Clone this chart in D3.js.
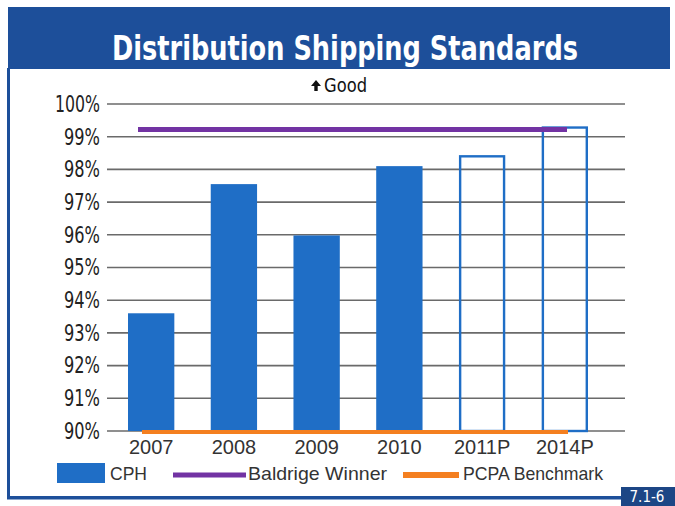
<!DOCTYPE html>
<html>
<head>
<meta charset="utf-8">
<script src="https://cdn.jsdelivr.net/npm/d3@7"></script>
<style>
  body { margin: 0; background: #fff; }
  text { font-family: "DejaVu Sans", sans-serif; font-stretch: condensed; }
  .plain { font-family: "Liberation Sans", sans-serif; font-stretch: normal; }
</style>
</head>
<body>
<div id="chart"></div>
<script>
// data
var years = ["2007", "2008", "2009", "2010", "2011P", "2014P"];
var cph = [93.6, 97.55, 95.98, 98.1, 98.4, 99.28];
var projected = [false, false, false, false, true, true];
var baldrige = 99.22;
var pcpa = 90.0;
var yTicks = [90, 91, 92, 93, 94, 95, 96, 97, 98, 99, 100];

var W = 675, H = 506;
var blue = "#1f6ec6", navy = "#1d4f9a";

var svg = d3.select("#chart").append("svg")
  .attr("width", W).attr("height", H);

// frame + title band
svg.append("rect").attr("x", 0).attr("y", 0).attr("width", W).attr("height", H).attr("fill", "#fff");
svg.append("rect").attr("x", 8).attr("y", 7).attr("width", 662).attr("height", 62).attr("fill", navy);
svg.append("rect").attr("x", 7).attr("y", 68).attr("width", 3).attr("height", 430).attr("fill", navy);
svg.append("rect").attr("x", 7).attr("y", 496).attr("width", 616).attr("height", 3.5).attr("fill", navy);
svg.append("rect").attr("x", 621).attr("y", 487).attr("width", 54).attr("height", 19).attr("fill", "#1c4685");
svg.append("text").attr("x", 647).attr("y", 502).attr("text-anchor", "middle")
  .attr("fill", "#fff").style("font-size", "15px").text("7.1-6");

svg.append("text").attr("x", 112).attr("y", 60)
  .attr("textLength", 466).attr("lengthAdjust", "spacingAndGlyphs")
  .attr("fill", "#fff").style("font-size", "34px").style("font-weight", "bold")
  .text("Distribution Shipping Standards");

// good arrow
svg.append("path").attr("d", "M316,80 l-5,6 h3.3 v5 h3.4 v-5 h3.3 z").attr("fill", "#111");
svg.append("text").attr("x", 324).attr("y", 92).attr("fill", "#111")
  .attr("textLength", 43).attr("lengthAdjust", "spacingAndGlyphs")
  .style("font-size", "19px").text("Good");

var x = d3.scaleBand().domain(years).range([128, 588]).paddingInner(0.44).paddingOuter(0);
var y = d3.scaleLinear().domain([90, 100]).range([431, 104]);

// gridlines
svg.append("g").selectAll("line").data(yTicks).enter().append("line")
  .attr("x1", 107).attr("x2", 625)
  .attr("y1", function(d){ return y(d) }).attr("y2", function(d){ return y(d) })
  .attr("stroke", "#6a6a6a").attr("stroke-width", 1.6);

// y axis labels
var yAxis = d3.axisLeft(y).tickValues(yTicks).tickSize(0).tickPadding(0)
  .tickFormat(function(d){ return d + "%" });
var ya = svg.append("g").attr("transform", "translate(100,0)").call(yAxis);
ya.select(".domain").remove();
ya.selectAll("text").style("font-size", "23px").attr("fill", "#222")
  .style("font-family", "'DejaVu Sans', sans-serif").style("font-stretch", "condensed")
  .attr("textLength", function(d){ return d === 100 ? 45 : 36 })
  .attr("lengthAdjust", "spacingAndGlyphs");

// bars
var data = years.map(function(d, i){ return {year: d, v: cph[i], p: projected[i]} });
svg.append("g").selectAll("rect").data(data).enter().append("rect")
  .attr("x", function(d){ return x(d.year) + (d.p ? 1.2 : 0) })
  .attr("y", function(d){ return y(d.v) })
  .attr("width", function(d){ return x.bandwidth() - (d.p ? 2.4 : 0) })
  .attr("height", function(d){ return y(90) - y(d.v) })
  .attr("fill", function(d){ return d.p ? "none" : blue })
  .attr("stroke", function(d){ return d.p ? blue : "none" })
  .attr("stroke-width", 2.4);

// benchmark lines
svg.append("line").attr("x1", 138).attr("x2", 567)
  .attr("y1", y(baldrige)).attr("y2", y(baldrige))
  .attr("stroke", "#7233a3").attr("stroke-width", 5);
svg.append("line").attr("x1", 142).attr("x2", 568)
  .attr("y1", y(pcpa) + 1).attr("y2", y(pcpa) + 1)
  .attr("stroke", "#f47f20").attr("stroke-width", 4);

// x axis labels
var xAxis = d3.axisBottom(x).tickSize(0).tickPadding(0);
var xa = svg.append("g").attr("transform", "translate(0,436)").call(xAxis);
xa.select(".domain").remove();
xa.selectAll("text").attr("class", "plain").style("font-size", "20px").attr("fill", "#333")
  .attr("dy", "0.9em");

// legend
var lg = svg.append("g");
lg.append("rect").attr("x", 57).attr("y", 463).attr("width", 48).attr("height", 20).attr("fill", blue);
lg.append("text").attr("class", "plain").attr("x", 110).attr("y", 480).style("font-size", "19px").attr("fill", "#333")
  .attr("textLength", 37).attr("lengthAdjust", "spacingAndGlyphs").text("CPH");
lg.append("line").attr("x1", 173).attr("x2", 246).attr("y1", 475).attr("y2", 475)
  .attr("stroke", "#7233a3").attr("stroke-width", 5);
lg.append("text").attr("class", "plain").attr("x", 248).attr("y", 480).style("font-size", "19px").attr("fill", "#333")
  .attr("textLength", 139).attr("lengthAdjust", "spacingAndGlyphs").text("Baldrige Winner");
lg.append("line").attr("x1", 403).attr("x2", 459).attr("y1", 475).attr("y2", 475)
  .attr("stroke", "#f47f20").attr("stroke-width", 6);
lg.append("text").attr("class", "plain").attr("x", 463).attr("y", 480).style("font-size", "19px").attr("fill", "#333")
  .attr("textLength", 140).attr("lengthAdjust", "spacingAndGlyphs").text("PCPA Benchmark");
</script>
</body>
</html>
